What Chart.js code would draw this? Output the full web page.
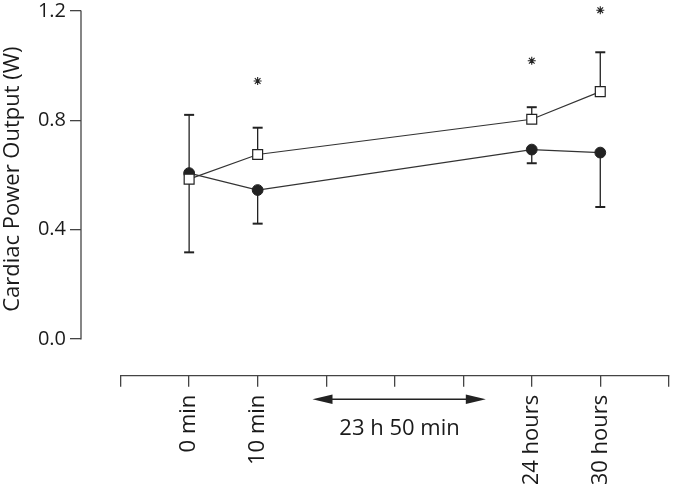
<!DOCTYPE html>
<html><head><meta charset="utf-8">
<script src="https://cdn.jsdelivr.net/npm/chart.js@4"></script>
<style>html,body{margin:0;padding:0;background:#fff}#wrap{width:677px;height:484px}</style>
</head><body><div id="wrap"><canvas id="c" width="677" height="484"></canvas></div>
<script>
// ---- data ----
const tickLabels = ['', '0 min', '10 min', '', '', '', '24 hours', '30 hours', ''];
const timeIndex = [1, 2, 6, 7];
const squareMean = [0.585, 0.675, 0.804, 0.905];
const squareErr = [0.235, 0.098, 0.044, 0.144];
const circleMean = [0.607, 0.545, 0.693, 0.682];
const circleErr = [0.29, 0.123, 0.05, 0.199];
const starIndex = [2, 6, 7];
const starValue = [0.944, 1.018, 1.203];
const yTicks = [0, 0.4, 0.8, 1.2];
const yTitle = 'Cardiac Power Output (W)';
const gapLabel = '23 h 50 min';

const FONT = '"Open Sans", "Noto Sans", sans-serif';
const INK = '#1a1a1a';
const AXIS = '#444';

const deco = {
  id: 'deco',
  beforeDatasetsDraw(chart) {
    const ctx = chart.ctx, xs = chart.scales.x, ys = chart.scales.y;
    ctx.save();
    ctx.strokeStyle = '#222';
    const bar = (xv, from, to) => {
      const px = xs.getPixelForValue(xv);
      const p1 = ys.getPixelForValue(from), p2 = ys.getPixelForValue(to);
      ctx.lineWidth = 1.3;
      ctx.beginPath(); ctx.moveTo(px, p1); ctx.lineTo(px, p2); ctx.stroke();
      ctx.lineWidth = 2;
      ctx.beginPath(); ctx.moveTo(px - 5, p2); ctx.lineTo(px + 5, p2); ctx.stroke();
    };
    timeIndex.forEach((xv, i) => {
      bar(xv, squareMean[i], squareMean[i] + squareErr[i]);
      bar(xv, circleMean[i], circleMean[i] - circleErr[i]);
    });
    ctx.restore();
  },
  afterDraw(chart) {
    const ctx = chart.ctx, xs = chart.scales.x, ys = chart.scales.y, ca = chart.chartArea;
    ctx.save();
    ctx.strokeStyle = AXIS; ctx.lineWidth = 1.3;
    ctx.beginPath();
    ctx.moveTo(ca.left, ys.getPixelForValue(yTicks[0]) + 0.6);
    ctx.lineTo(ca.left, ys.getPixelForValue(yTicks[yTicks.length - 1]) - 0.6);
    ctx.stroke();
    ctx.beginPath();
    ctx.moveTo(xs.getPixelForValue(0) - 0.6, ca.bottom);
    ctx.lineTo(xs.getPixelForValue(tickLabels.length - 1) + 0.6, ca.bottom);
    ctx.stroke();
    const ay = ca.bottom + 23.6;
    const l = xs.getPixelForValue(2.8), r = xs.getPixelForValue(5.33);
    ctx.strokeStyle = '#222'; ctx.fillStyle = '#222'; ctx.lineWidth = 1.4;
    ctx.beginPath(); ctx.moveTo(l + 10, ay); ctx.lineTo(r - 10, ay); ctx.stroke();
    ctx.beginPath(); ctx.moveTo(l, ay); ctx.lineTo(l + 20, ay - 4.8); ctx.lineTo(l + 20, ay + 4.8); ctx.closePath(); ctx.fill();
    ctx.beginPath(); ctx.moveTo(r, ay); ctx.lineTo(r - 20, ay - 4.8); ctx.lineTo(r - 20, ay + 4.8); ctx.closePath(); ctx.fill();
    ctx.fillStyle = INK;
    ctx.font = '22px ' + FONT;
    ctx.textAlign = 'center'; ctx.textBaseline = 'alphabetic';
    ctx.fillText(gapLabel, xs.getPixelForValue(4.07), ca.bottom + 59.3);
    ctx.save();
    ctx.translate(13, ys.getPixelForValue(0.585));
    ctx.rotate(-Math.PI / 2);
    ctx.font = '22px ' + FONT;
    ctx.textAlign = 'center'; ctx.textBaseline = 'middle';
    ctx.fillText(yTitle, 0, 0);
    ctx.restore();
    ctx.restore();
  }
};

function build() {
  Chart.defaults.font.family = FONT;
  new Chart(document.getElementById('c'), {
    type: 'scatter',
    data: {
      datasets: [
        {
          label: 'squares',
          data: timeIndex.map((x, i) => ({ x, y: squareMean[i] })),
          showLine: true, borderColor: '#333', borderWidth: 1.2,
          pointStyle: 'rect', pointRadius: 7, pointBackgroundColor: '#fff',
          pointBorderColor: '#222', pointBorderWidth: 1.2, clip: false
        },
        {
          label: 'circles',
          data: timeIndex.map((x, i) => ({ x, y: circleMean[i] })),
          showLine: true, borderColor: '#333', borderWidth: 1.2,
          pointStyle: 'circle', pointRadius: 5.4, pointBackgroundColor: '#222',
          pointBorderColor: '#222', pointBorderWidth: 1, clip: false
        },
        {
          label: 'significance',
          data: starIndex.map((x, i) => ({ x, y: starValue[i] })),
          showLine: false, pointStyle: 'star', pointRadius: 4,
          pointBorderColor: '#222', pointBorderWidth: 1.1, clip: false
        }
      ]
    },
    options: {
      responsive: false, animation: false, devicePixelRatio: 1,
      layout: { padding: { left: 0, top: 11, right: 2.7, bottom: 0 } },
      plugins: { legend: { display: false }, tooltip: { enabled: false } },
      scales: {
        x: {
          type: 'linear', min: -0.578, max: tickLabels.length - 1,
          afterBuildTicks: s => { s.ticks = tickLabels.map((_, i) => ({ value: i })); },
          ticks: {
            autoSkip: false, minRotation: 90, maxRotation: 90, padding: 8,
            color: INK, font: { size: 22, family: FONT },
            callback: v => tickLabels[v]
          },
          grid: { drawOnChartArea: false, drawTicks: true, tickLength: 11, color: AXIS, lineWidth: 1.3 },
          border: { display: false },
          afterFit: s => { s.height = 108.3; s.paddingLeft = 0; s.paddingRight = 0; }
        },
        y: {
          type: 'linear', min: -0.1343, max: 1.2,
          afterBuildTicks: s => { s.ticks = yTicks.map(v => ({ value: v })); },
          ticks: {
            padding: 4, color: INK, font: { size: 20, family: FONT },
            callback: v => v.toFixed(1)
          },
          grid: { drawOnChartArea: false, drawTicks: true, tickLength: 11, color: AXIS, lineWidth: 1.3 },
          border: { display: false },
          afterFit: s => { s.width = 81; s.paddingTop = 0; s.paddingBottom = 0; }
        }
      }
    },
    plugins: [deco]
  });
}
if (document.fonts && document.fonts.load) {
  Promise.all([document.fonts.load('22px "Open Sans"'), document.fonts.load('20px "Open Sans"')]).then(build, build);
} else { build(); }
</script>
</body></html>
